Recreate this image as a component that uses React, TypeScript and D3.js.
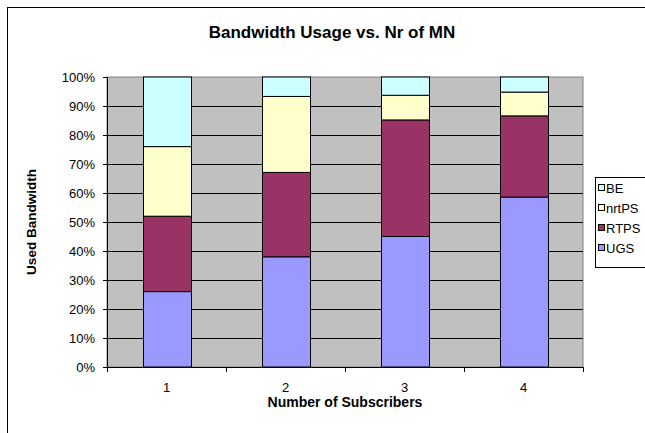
import React from "react";
import * as d3 from "d3";

const categories = ["1", "2", "3", "4"];
const seriesNames = ["UGS", "RTPS", "nrtPS", "BE"];
const UGS = [26, 38, 45, 58.6];
const RTPS = [26, 29.1, 40.2, 28];
const nrtPS = [24, 26.2, 8.5, 8.2];
const BE = [24, 6.7, 6.3, 5.2];
const yTicks = [0, 10, 20, 30, 40, 50, 60, 70, 80, 90, 100];
const colors = ["#9999FF", "#993366", "#FFFFCC", "#CCFFFF"];

const W = 645, H = 433;
const plot = { left: 107, right: 583, top: 77, bottom: 367 };

export default function App() {
  const values = [UGS, RTPS, nrtPS, BE];
  const rows = categories.map((c, i) => {
    const r: any = { cat: c };
    seriesNames.forEach((s, k) => (r[s] = values[k][i]));
    return r;
  });
  const stacked = d3.stack().keys(seriesNames)(rows);
  const x = d3.scaleBand().domain(categories).range([plot.left, plot.right]).paddingInner(0.6).paddingOuter(0.3);
  const xOuter = d3.scaleBand().domain(categories).range([plot.left, plot.right]);
  const y = d3.scaleLinear().domain([0, 100]).range([plot.bottom, plot.top]);
  const font = "'Liberation Sans', Arial, sans-serif";
  const legendItems = [...seriesNames].reverse();

  return (
    <svg width={W} height={H} style={{ position: "absolute", left: 0, top: 0 }}>
      <rect x={0} y={0} width={W} height={H} fill="#fff" />
      <rect x={7.5} y={7.5} width={W} height={H} fill="none" stroke="#000" strokeWidth={1} />
      <text x={332} y={38} textAnchor="middle" fontFamily={font} fontWeight="bold" fontSize={17}>
        Bandwidth Usage vs. Nr of MN
      </text>
      <rect x={plot.left} y={plot.top} width={plot.right - plot.left} height={plot.bottom - plot.top} fill="#C0C0C0" stroke="#808080" />
      {yTicks.map((t) => (
        <g key={t}>
          <line x1={plot.left - 4} x2={plot.right} y1={Math.round(y(t)) + 0.5} y2={Math.round(y(t)) + 0.5} stroke="#000" strokeWidth={t === 0 || t === 100 ? 0 : 1} />
          <line x1={plot.left - 4} x2={plot.left} y1={Math.round(y(t)) + 0.5} y2={Math.round(y(t)) + 0.5} stroke="#000" />
          <text x={95} y={y(t) + 5} textAnchor="end" fontFamily={font} fontSize={13}>
            {t}%
          </text>
        </g>
      ))}
      {stacked.map((s, k) => (
        <g key={s.key}>
          {s.map((d, i) => (
            <rect
              key={i}
              x={Math.round(x(categories[i])!) + 0.5}
              width={Math.round(x.bandwidth())}
              y={y(d[1])}
              height={y(d[0]) - y(d[1])}
              fill={colors[k]}
              stroke="#000"
              strokeWidth={1}
            />
          ))}
        </g>
      ))}
      <line x1={plot.left + 0.5} x2={plot.left + 0.5} y1={plot.top} y2={plot.bottom} stroke="#000" />
      <line x1={plot.left} x2={plot.right} y1={plot.bottom + 0.5} y2={plot.bottom + 0.5} stroke="#000" />
      {[...categories.map((c) => xOuter(c)!), plot.right].map((v, i) => (
        <line key={i} x1={Math.round(v) + 0.5} x2={Math.round(v) + 0.5} y1={plot.bottom} y2={plot.bottom + 5} stroke="#000" />
      ))}
      {categories.map((c) => (
        <text key={c} x={xOuter(c)! + xOuter.bandwidth() / 2} y={392} textAnchor="middle" fontFamily={font} fontSize={13}>
          {c}
        </text>
      ))}
      <text x={345} y={407} textAnchor="middle" fontFamily={font} fontWeight="bold" fontSize={14}>
        Number of Subscribers
      </text>
      <text transform={`translate(36, ${(plot.top + plot.bottom) / 2}) rotate(-90)`} textAnchor="middle" fontFamily={font} fontWeight="bold" fontSize={13.5}>
        Used Bandwidth
      </text>
      <rect x={595.5} y={177.5} width={60} height={90} fill="#fff" stroke="#000" />
      {legendItems.map((s, i) => {
        const k = seriesNames.indexOf(s);
        const cy = 188 + i * 20;
        return (
          <g key={s}>
            <rect x={598.5} y={cy - 3.5} width={6} height={6} fill={colors[k]} stroke="#000" />
            <text x={606} y={cy + 5} fontFamily={font} fontSize={13}>
              {s}
            </text>
          </g>
        );
      })}
    </svg>
  );
}
